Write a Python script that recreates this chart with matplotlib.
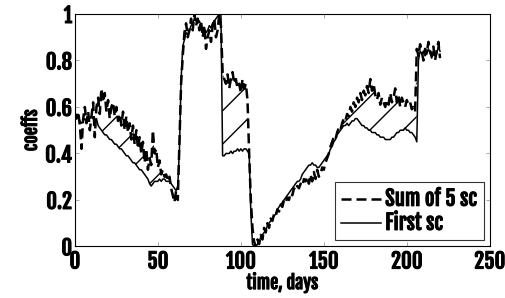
import numpy as np
import matplotlib
matplotlib.use("Agg")
import matplotlib.pyplot as plt
import matplotlib.patheffects as pe

plt.rcParams['font.family'] = ['Fjalla One', 'Oswald', 'DejaVu Sans']

# days 0..220, one value per day
days = np.arange(0, 221)

# Sum of 5 sc (dashed, noisy)
sum5 = [
    0.57, 0.55, 0.58, 0.52, 0.42, 0.55, 0.60, 0.53, 0.58, 0.50,
    0.56, 0.62, 0.47, 0.60, 0.64, 0.57, 0.68, 0.62, 0.66, 0.58,
    0.63, 0.55, 0.60, 0.62, 0.56, 0.60, 0.54, 0.57, 0.52, 0.58,
    0.50, 0.56, 0.49, 0.53, 0.46, 0.52, 0.44, 0.50, 0.42, 0.47,
    0.40, 0.45, 0.36, 0.42, 0.33, 0.38, 0.35, 0.50, 0.40, 0.42,
    0.34, 0.37, 0.31, 0.33, 0.30, 0.31, 0.28, 0.30, 0.25, 0.22,
    0.19, 0.24, 0.20, 0.45, 0.70, 0.82, 0.92, 0.96, 0.90, 0.93,
    0.98, 0.93, 1.00, 0.95, 0.98, 0.93, 0.97, 0.90, 0.95, 0.85,
    0.90, 0.93, 0.88, 0.95, 0.98, 0.90, 0.93, 1.00, 0.95, 0.75,
    0.72, 0.70, 0.74, 0.68, 0.72, 0.75, 0.70, 0.72, 0.68, 0.70,
    0.66, 0.72, 0.68, 0.70, 0.63, 0.40, 0.20, 0.08, 0.02, 0.00,
    0.03, 0.01, 0.05, 0.03, 0.08, 0.06, 0.10, 0.08, 0.12, 0.11,
    0.14, 0.13, 0.16, 0.15, 0.18, 0.17, 0.20, 0.19, 0.21, 0.20,
    0.23, 0.22, 0.25, 0.24, 0.26, 0.25, 0.27, 0.26, 0.29, 0.28,
    0.30, 0.27, 0.31, 0.28, 0.32, 0.29, 0.33, 0.30, 0.31, 0.34,
    0.33, 0.36, 0.38, 0.40, 0.43, 0.45, 0.47, 0.46, 0.49, 0.51,
    0.50, 0.53, 0.55, 0.54, 0.57, 0.56, 0.60, 0.58, 0.62, 0.60,
    0.64, 0.62, 0.66, 0.63, 0.67, 0.65, 0.69, 0.66, 0.72, 0.67,
    0.70, 0.65, 0.63, 0.66, 0.61, 0.64, 0.62, 0.60, 0.63, 0.61,
    0.66, 0.62, 0.64, 0.68, 0.62, 0.65, 0.60, 0.64, 0.62, 0.60,
    0.63, 0.61, 0.62, 0.59, 0.60, 0.58, 0.85, 0.82, 0.87, 0.84,
    0.80, 0.85, 0.83, 0.88, 0.84, 0.82, 0.86, 0.80, 0.84, 0.88,
    0.81,
]

# First sc (solid, smoother)
first = [
    0.56, 0.55, 0.56, 0.54, 0.53, 0.54, 0.55, 0.54, 0.55, 0.55,
    0.56, 0.55, 0.54, 0.55, 0.52, 0.51, 0.50, 0.49, 0.48, 0.48,
    0.47, 0.46, 0.46, 0.45, 0.44, 0.44, 0.43, 0.42, 0.42, 0.41,
    0.40, 0.39, 0.39, 0.38, 0.37, 0.36, 0.36, 0.35, 0.34, 0.33,
    0.33, 0.32, 0.31, 0.30, 0.29, 0.27, 0.26, 0.27, 0.28, 0.28,
    0.28, 0.29, 0.28, 0.29, 0.29, 0.28, 0.28, 0.28, 0.27, 0.26,
    0.25, 0.24, 0.26, 0.42, 0.72, 0.86, 0.89, 0.92, 0.91, 0.93,
    0.95, 0.96, 0.98, 0.97, 0.96, 0.97, 0.95, 0.93, 0.94, 0.92,
    0.93, 0.95, 0.94, 0.96, 0.97, 0.98, 0.99, 1.00, 1.00, 0.39,
    0.39, 0.40, 0.40, 0.40, 0.41, 0.40, 0.41, 0.41, 0.42, 0.41,
    0.42, 0.41, 0.42, 0.42, 0.41, 0.40, 0.15, 0.01, 0.00, 0.00,
    0.01, 0.02, 0.04, 0.05, 0.06, 0.07, 0.09, 0.10, 0.11, 0.12,
    0.13, 0.14, 0.16, 0.17, 0.18, 0.19, 0.20, 0.21, 0.22, 0.23,
    0.24, 0.25, 0.26, 0.27, 0.28, 0.28, 0.29, 0.31, 0.32, 0.33,
    0.34, 0.35, 0.35, 0.36, 0.35, 0.35, 0.34, 0.34, 0.35, 0.36,
    0.37, 0.38, 0.39, 0.40, 0.42, 0.43, 0.45, 0.46, 0.48, 0.49,
    0.50, 0.51, 0.52, 0.52, 0.53, 0.52, 0.53, 0.54, 0.54, 0.55,
    0.55, 0.54, 0.53, 0.52, 0.52, 0.51, 0.51, 0.50, 0.50, 0.49,
    0.49, 0.49, 0.48, 0.48, 0.47, 0.47, 0.47, 0.46, 0.46, 0.46,
    0.46, 0.47, 0.47, 0.48, 0.49, 0.49, 0.50, 0.50, 0.50, 0.51,
    0.50, 0.50, 0.49, 0.49, 0.48, 0.47, 0.45, 0.80, 0.84, 0.83,
    0.84, 0.82, 0.83, 0.85, 0.83, 0.81, 0.84, 0.82, 0.83, 0.86,
    0.84,
]

# stretches where the gap is hatched
hatch_spans = [(13, 60), (89, 105), (158, 206)]

sum5 = np.array(sum5)
first = np.array(first)

fig = plt.figure(figsize=(5.06, 2.98), dpi=100)
ax = fig.add_axes([0.148, 0.173, 0.820, 0.780])

mask = np.zeros(len(days), dtype=bool)
for a, b in hatch_spans:
    mask |= (days >= a) & (days <= b)
mask &= sum5 > first
ax.fill_between(days, first, sum5, where=mask, facecolor='none',
                edgecolor='k', hatch='/', linewidth=0)

ax.plot(days, sum5, color='k', linestyle=(0, (4, 2)), linewidth=1.8, label='Sum of 5 sc')
ax.plot(days, first, color='k', linestyle='-', linewidth=1.1, label='First sc')

ax.set_xlim(0, 250)
ax.set_ylim(0, 1)
ax.set_xticks([0, 50, 100, 150, 200, 250])
ax.set_yticks([0, 0.2, 0.4, 0.6, 0.8, 1])
ax.set_yticklabels(['0', '0.2', '0.4', '0.6', '0.8', '1'])
ax.tick_params(direction='in', top=True, right=True, length=3, width=0.6,
               color='0.6', labelsize=15, pad=2)
ax.tick_params(axis='x', pad=3)
for sp in ax.spines.values():
    sp.set_linewidth(0.8)

ax.set_xlabel('time, days', fontsize=13, labelpad=0)
ax.set_ylabel('coeffs', fontsize=13, labelpad=3)

leg = ax.legend(loc='lower right', fontsize=15, frameon=True, fancybox=False,
                edgecolor='k', handlelength=1.9, borderpad=0.3, labelspacing=0.1,
                handletextpad=0.2, borderaxespad=0.3)
leg.get_frame().set_linewidth(0.8)

# heavier strokes, as in the reference's bold lettering
bold = [pe.withStroke(linewidth=0.7, foreground='k')]
for t in (ax.get_xticklabels() + ax.get_yticklabels() + leg.get_texts()
          + [ax.xaxis.label, ax.yaxis.label]):
    t.set_path_effects(bold)

fig.savefig('out.png', dpi=100)
